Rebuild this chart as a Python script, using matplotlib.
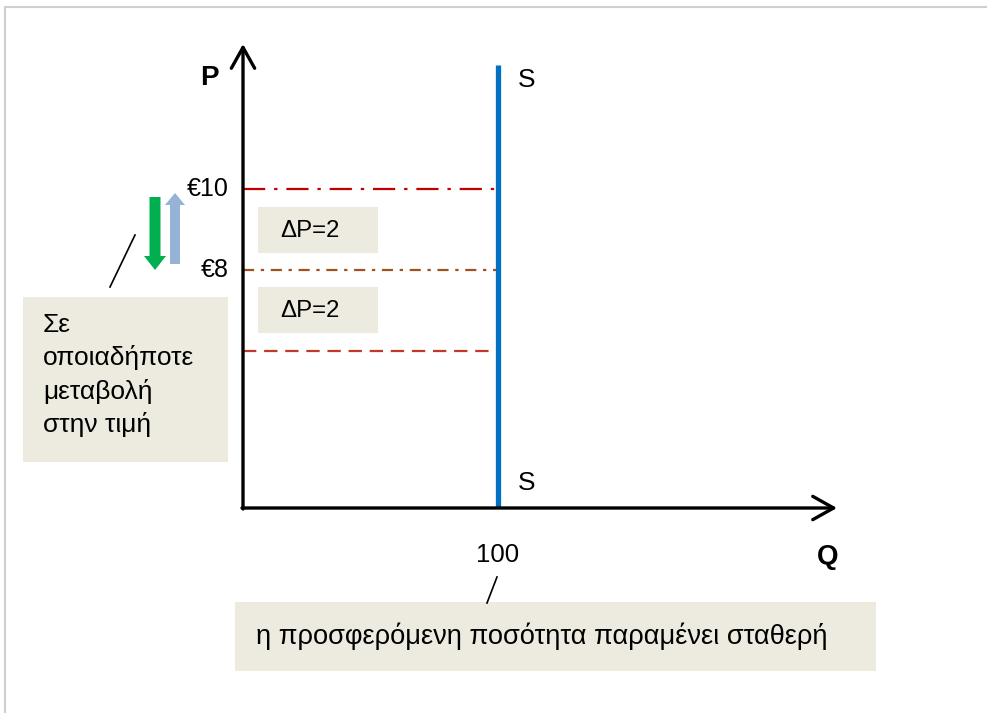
import matplotlib.pyplot as plt
from matplotlib.patches import FancyArrow, Rectangle

plt.rcParams['font.family'] = ['Liberation Sans', 'DejaVu Sans']

# price levels drawn as horizontal guides (P) and the fixed supplied quantity (Q)
price_levels = [10, 8, 6]
price_tick_labels = ['€10', '€8']
price_styles = [
    ('#C00000', (0, (10, 4, 1.5, 4))),
    ('#A0521E', (0, (5, 3, 1.5, 3))),
    ('#C0392B', (0, (6, 3.5))),
]
q_supply = 100
q_label = '100'
delta_labels = ['ΔP=2', 'ΔP=2']

W, H = 990, 713
fig = plt.figure(figsize=(W / 100, H / 100), dpi=100)

# data axes: Q=0 at x=243, Q=100 at x=498; P=10 at y=189, P=8 at y=270
qpx = (498 - 243) / 100
ppx = (270 - 189) / 2
ax = fig.add_axes([0, 0, 1, 1])
ax.set_xlim(-243 / qpx, (W - 243) / qpx)
ax.set_ylim(10 - (H - 189) / ppx, 10 + 189 / ppx)
ax.axis('off')

# overlay in pixel coordinates for the boxes, arrows and labels
lay = fig.add_axes([0, 0, 1, 1], facecolor='none')
lay.set_xlim(0, W)
lay.set_ylim(H, 0)
lay.axis('off')

# light frame
lay.plot([5, 5], [H, 7], color='#CFCFCF', lw=1.5)
lay.plot([5, 986], [7, 7], color='#CFCFCF', lw=1.5)

p_axis = 10 - (508 - 189) / ppx  # price where the Q axis sits

# price guides up to the supply line
for p, (c, ls) in zip(price_levels, price_styles):
    ax.plot([0, q_supply], [p, p], color=c, lw=1.6, linestyle=ls)

# vertical supply curve
ax.plot([q_supply, q_supply], [p_axis, 10 + (189 - 65) / ppx], color='#0070C0', lw=3.8,
        solid_capstyle='butt')

# axes with open arrow heads
arrow_kw = dict(arrowstyle='->,head_length=0.75,head_width=0.42', lw=2.4, color='black',
                mutation_scale=20, shrinkA=0, shrinkB=0)
lay.annotate('', xy=(243, 44), xytext=(243, 509), arrowprops=arrow_kw)
lay.annotate('', xy=(837, 508), xytext=(242, 508), arrowprops=arrow_kw)

fs = 19
lay.text(209, 78, 'P', fontsize=20, fontweight='bold', ha='center', va='center')
lay.text(828, 557, 'Q', fontsize=20, fontweight='bold', ha='center', va='center')
lay.text(518, 80, 'S', fontsize=fs, ha='left', va='center')
lay.text(518, 483, 'S', fontsize=fs, ha='left', va='center')

# price labels beside the P axis
for p, lbl in zip(price_levels, price_tick_labels):
    y = 189 + (10 - p) * ppx
    lay.text(229, y, lbl, fontsize=18, ha='right', va='center')

lay.text(243 + q_supply * qpx, 555, q_label, fontsize=18.5, ha='center', va='center')

box_col = '#EDEBE0'
# ΔP boxes between the guides
for y0, lbl in zip([207, 287], delta_labels):
    lay.add_patch(Rectangle((258, y0), 120, 46, facecolor=box_col, edgecolor='none'))
    lay.text(280, y0 + 24, lbl, fontsize=17.3, ha='left', va='center')

# note on the left with callout
lay.add_patch(Rectangle((23, 297), 205, 165, facecolor=box_col, edgecolor='none'))
lay.text(43, 313, 'Σε\nοποιαδήποτε\nμεταβολή\nστην τιμή', fontsize=fs, ha='left', va='top',
         linespacing=1.42)
lay.plot([110, 135], [287, 235], color='black', lw=1.2)

# price change arrows
lay.add_patch(FancyArrow(155, 197, 0, 73, width=11, head_width=22, head_length=14,
                         length_includes_head=True, color='#00B050', lw=0))
lay.add_patch(FancyArrow(175, 264, 0, -71, width=10, head_width=20, head_length=12,
                         length_includes_head=True, color='#95B3D7', lw=0))

# bottom note with callout
lay.add_patch(Rectangle((235, 602), 641, 69, facecolor=box_col, edgecolor='none'))
lay.text(256, 636, 'η προσφερόμενη ποσότητα παραμένει σταθερή', fontsize=19.6, ha='left',
         va='center')
lay.plot([487, 497], [603, 577], color='black', lw=1.2)

fig.savefig('out.png', dpi=100)
